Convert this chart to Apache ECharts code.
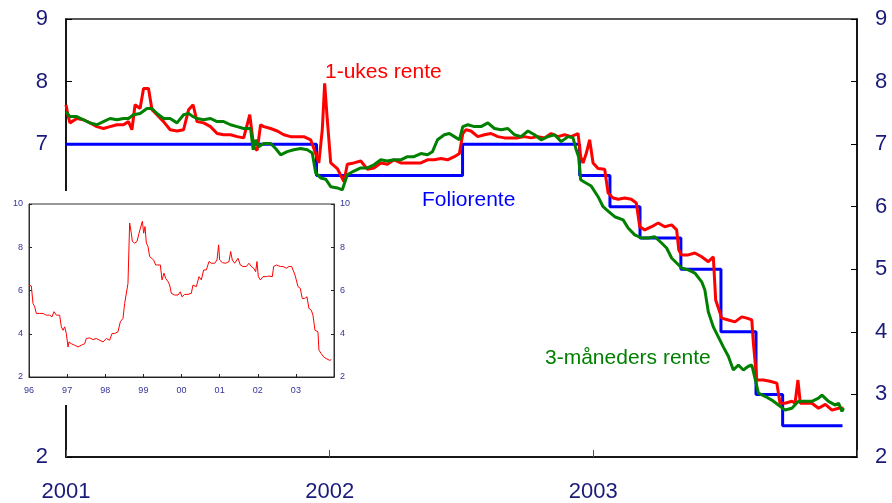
<!DOCTYPE html>
<html>
<head>
<meta charset="utf-8">
<script src="https://cdn.jsdelivr.net/npm/echarts@6/dist/echarts.min.js"></script>
<style>
  html, body { margin: 0; padding: 0; background: #fff; }
  #chart { width: 892px; height: 503px; }
</style>
</head>
<body>
<div id="chart"></div>
<script>
// 1-ukes rente, [år, prosent]
var ukesRente = [
  [2001.000,7.63],[2001.008,7.45],[2001.015,7.34],[2001.041,7.41],[2001.066,7.39],[2001.091,7.34],[2001.117,7.28],
  [2001.142,7.25],[2001.167,7.28],[2001.193,7.31],[2001.218,7.31],[2001.237,7.36],[2001.250,7.23],[2001.262,7.63],
  [2001.281,7.57],[2001.294,7.89],[2001.313,7.89],[2001.326,7.55],[2001.345,7.47],[2001.370,7.36],[2001.395,7.23],
  [2001.421,7.21],[2001.446,7.23],[2001.465,7.55],[2001.482,7.63],[2001.497,7.36],[2001.522,7.34],[2001.548,7.28],
  [2001.573,7.17],[2001.598,7.15],[2001.624,7.15],[2001.649,7.12],[2001.674,7.10],[2001.697,7.47],[2001.712,6.96],
  [2001.725,6.90],[2001.738,7.31],[2001.750,7.28],[2001.776,7.25],[2001.801,7.21],[2001.826,7.15],[2001.852,7.12],
  [2001.877,7.12],[2001.902,7.12],[2001.928,7.07],[2001.940,6.93],[2001.959,6.70],[2001.972,7.23],[2001.981,7.97],
  [2001.991,7.39],[2002.004,6.70],[2002.029,6.61],[2002.054,6.40],[2002.067,6.68],[2002.092,6.70],[2002.118,6.73],
  [2002.143,6.60],[2002.168,6.62],[2002.194,6.70],[2002.219,6.68],[2002.244,6.75],[2002.270,6.70],[2002.295,6.70],
  [2002.320,6.70],[2002.346,6.70],[2002.371,6.75],[2002.397,6.75],[2002.422,6.77],[2002.447,6.75],[2002.473,6.80],
  [2002.492,6.85],[2002.505,7.17],[2002.517,7.23],[2002.536,7.21],[2002.562,7.12],[2002.587,7.15],[2002.612,7.17],
  [2002.638,7.12],[2002.663,7.10],[2002.688,7.10],[2002.714,7.10],[2002.739,7.12],[2002.764,7.10],[2002.790,7.12],
  [2002.815,7.10],[2002.840,7.17],[2002.866,7.12],[2002.891,7.15],[2002.916,7.12],[2002.942,7.17],[2002.952,6.80],
  [2002.961,6.70],[2002.973,6.85],[2002.986,7.07],[2002.999,6.70],[2003.018,6.61],[2003.043,6.60],[2003.056,6.22],
  [2003.075,6.14],[2003.094,6.12],[2003.119,6.14],[2003.144,6.12],[2003.163,6.06],[2003.176,5.68],[2003.195,5.63],
  [2003.221,5.68],[2003.246,5.74],[2003.271,5.68],[2003.297,5.71],[2003.316,5.63],[2003.324,5.31],[2003.335,5.23],
  [2003.360,5.23],[2003.385,5.26],[2003.411,5.20],[2003.436,5.12],[2003.455,5.20],[2003.464,4.51],[2003.487,4.22],
  [2003.512,4.19],[2003.537,4.16],[2003.563,4.24],[2003.582,4.22],[2003.601,4.19],[2003.607,3.82],[2003.620,3.23],
  [2003.645,3.23],[2003.670,3.21],[2003.696,3.18],[2003.708,2.86],[2003.727,2.86],[2003.753,2.89],[2003.765,2.86],
  [2003.776,3.23],[2003.785,2.86],[2003.803,2.86],[2003.829,2.86],[2003.854,2.78],[2003.880,2.84],[2003.905,2.75],
  [2003.930,2.78],[2003.949,2.78]
];

// 3-måneders rente
var mndRente = [
  [2001.000,7.52],[2001.015,7.44],[2001.041,7.44],[2001.066,7.39],[2001.091,7.34],[2001.117,7.31],[2001.142,7.36],
  [2001.167,7.41],[2001.193,7.39],[2001.218,7.41],[2001.237,7.41],[2001.256,7.47],[2001.281,7.49],[2001.307,7.57],
  [2001.326,7.57],[2001.345,7.49],[2001.370,7.41],[2001.395,7.41],[2001.421,7.34],[2001.446,7.47],[2001.465,7.49],
  [2001.482,7.44],[2001.497,7.41],[2001.522,7.39],[2001.548,7.41],[2001.573,7.36],[2001.598,7.36],[2001.624,7.31],
  [2001.649,7.28],[2001.674,7.25],[2001.700,7.25],[2001.710,6.91],[2001.719,7.07],[2001.731,6.96],[2001.750,7.01],
  [2001.776,7.01],[2001.795,6.93],[2001.814,6.83],[2001.839,6.88],[2001.864,6.91],[2001.890,6.93],[2001.915,6.91],
  [2001.934,6.86],[2001.947,6.54],[2001.966,6.46],[2001.985,6.44],[2002.004,6.32],[2002.029,6.30],[2002.048,6.27],
  [2002.067,6.51],[2002.092,6.57],[2002.118,6.62],[2002.143,6.62],[2002.168,6.67],[2002.194,6.75],[2002.219,6.73],
  [2002.244,6.75],[2002.270,6.75],[2002.295,6.80],[2002.320,6.80],[2002.346,6.85],[2002.371,6.83],[2002.390,6.88],
  [2002.409,7.07],[2002.435,7.15],[2002.454,7.17],[2002.473,7.12],[2002.492,7.07],[2002.505,7.28],[2002.524,7.31],
  [2002.549,7.28],[2002.574,7.28],[2002.600,7.34],[2002.625,7.25],[2002.650,7.23],[2002.676,7.25],[2002.701,7.15],
  [2002.726,7.12],[2002.752,7.21],[2002.777,7.15],[2002.802,7.07],[2002.828,7.12],[2002.853,7.15],[2002.878,7.04],
  [2002.904,7.12],[2002.923,7.10],[2002.935,6.91],[2002.944,6.80],[2002.952,6.43],[2002.967,6.39],[2002.992,6.33],
  [2003.018,6.16],[2003.037,6.00],[2003.056,5.93],[2003.081,5.84],[2003.113,5.79],[2003.132,5.66],[2003.157,5.55],
  [2003.183,5.50],[2003.208,5.50],[2003.233,5.52],[2003.259,5.42],[2003.278,5.34],[2003.297,5.18],[2003.335,5.02],
  [2003.360,4.99],[2003.385,4.94],[2003.411,4.80],[2003.423,4.67],[2003.436,4.32],[2003.455,4.08],[2003.474,3.92],
  [2003.493,3.76],[2003.512,3.61],[2003.531,3.39],[2003.550,3.47],[2003.569,3.39],[2003.588,3.45],[2003.601,3.47],
  [2003.613,3.26],[2003.626,3.02],[2003.651,2.97],[2003.677,2.91],[2003.702,2.83],[2003.727,2.75],[2003.753,2.78],
  [2003.778,2.89],[2003.803,2.89],[2003.829,2.89],[2003.854,2.94],[2003.867,2.99],[2003.892,2.89],[2003.918,2.83],
  [2003.930,2.86],[2003.943,2.73],[2003.949,2.78]
];

// Foliorente, endringsdatoer
var folioRente = [
  [2001.000,7.0],[2001.950,6.5],[2002.504,7.0],[2002.948,6.5],[2003.063,6.0],[2003.177,5.5],
  [2003.332,5.0],[2003.484,4.0],[2003.617,3.0],[2003.718,2.5],[2003.945,2.5]
];

// innfelt: 1-ukes rente 1996-2003
var ukesRenteLang = [
  [1996.000,6.25],[1996.061,6.21],[1996.105,5.40],[1996.149,5.25],[1996.192,4.94],[1996.236,5.02],[1996.280,4.94],
  [1996.367,4.94],[1996.455,4.86],[1996.542,4.86],[1996.603,4.78],[1996.656,5.02],[1996.717,4.86],[1996.760,4.94],
  [1996.804,4.86],[1996.848,4.32],[1996.892,4.16],[1996.935,4.32],[1996.979,4.01],[1997.023,3.39],[1997.049,3.62],
  [1997.110,3.54],[1997.198,3.47],[1997.285,3.39],[1997.372,3.47],[1997.460,3.54],[1997.503,3.78],[1997.591,3.81],
  [1997.678,3.73],[1997.766,3.78],[1997.853,3.70],[1997.941,3.62],[1998.028,3.78],[1998.115,3.70],[1998.177,4.01],
  [1998.247,4.01],[1998.334,4.09],[1998.395,4.55],[1998.465,4.71],[1998.509,5.40],[1998.552,5.48],[1998.596,6.33],
  [1998.640,9.12],[1998.684,8.65],[1998.711,8.27],[1998.772,8.19],[1998.833,8.27],[1998.886,8.65],[1998.930,8.65],
  [1998.973,9.20],[1999.008,8.65],[1999.043,8.96],[1999.078,8.19],[1999.122,8.03],[1999.165,7.57],[1999.209,7.49],
  [1999.270,7.41],[1999.323,7.18],[1999.384,7.18],[1999.445,7.18],[1999.489,6.49],[1999.541,6.80],[1999.585,6.56],
  [1999.646,6.41],[1999.690,6.25],[1999.733,5.87],[1999.821,5.79],[1999.908,5.79],[1999.969,5.94],[2000.013,5.71],
  [2000.083,5.82],[2000.170,5.82],[2000.258,5.87],[2000.301,6.25],[2000.389,6.18],[2000.459,6.64],[2000.520,6.49],
  [2000.581,6.95],[2000.651,6.95],[2000.721,7.34],[2000.782,7.26],[2000.869,7.26],[2000.931,7.41],[2000.974,8.11],
  [2001.001,7.41],[2001.071,7.29],[2001.158,7.26],[2001.246,7.34],[2001.289,7.80],[2001.333,7.41],[2001.394,7.26],
  [2001.421,7.18],[2001.482,7.49],[2001.543,7.18],[2001.613,7.11],[2001.700,7.11],[2001.770,7.26],[2001.831,7.11],
  [2001.892,7.03],[2001.945,6.87],[2001.980,7.34],[2002.015,6.64],[2002.067,6.49],[2002.137,6.64],[2002.225,6.64],
  [2002.294,6.67],[2002.382,6.64],[2002.417,7.11],[2002.487,7.18],[2002.531,7.26],[2002.592,7.11],[2002.662,7.11],
  [2002.750,7.03],[2002.819,7.11],[2002.889,7.11],[2002.941,7.03],[2002.976,6.72],[2003.011,6.49],[2003.055,6.18],
  [2003.115,6.10],[2003.168,5.63],[2003.229,5.63],[2003.291,5.71],[2003.343,5.17],[2003.404,5.09],[2003.448,4.86],
  [2003.501,4.16],[2003.553,4.16],[2003.579,4.09],[2003.605,3.24],[2003.666,3.08],[2003.728,2.93],[2003.798,2.85],
  [2003.885,2.77],[2003.929,2.80]
];

var FONT = '"Liberation Sans", Arial, sans-serif';
var NAVY = '#1a1a7a';
var INSET_BLUE = '#33339a';

var chart = echarts.init(document.getElementById('chart'));

function mainY(pos) {
  return {
    type: 'value', gridIndex: 0, position: pos, min: 2, max: 9, interval: 1,
    axisLine: { show: true, lineStyle: { color: '#000', width: 1.5 } },
    axisTick: { show: true, inside: true, length: 6, lineStyle: { color: '#000', width: 1 } },
    axisLabel: { color: NAVY, fontSize: 22, fontFamily: FONT, margin: 18 },
    splitLine: { show: false }
  };
}

function insetY(pos) {
  return {
    type: 'value', gridIndex: 1, position: pos, min: 2, max: 10, interval: 2, z: 20,
    axisLine: { show: true, lineStyle: { color: '#333', width: 1 } },
    axisTick: { show: true, inside: true, length: 3, lineStyle: { color: '#222' } },
    axisLabel: { color: INSET_BLUE, fontSize: 9, fontFamily: FONT, margin: 6 },
    splitLine: { show: false }
  };
}

var option = {
  animation: false,
  backgroundColor: '#fff',
  grid: [
    { left: 66, right: 35, top: 19, bottom: 46, show: true, borderColor: '#222', borderWidth: 1.5 },
    { left: 29, right: 558, top: 204, bottom: 126, show: true, borderColor: '#333', borderWidth: 1, z: 20 }
  ],
  xAxis: [
    {
      type: 'value', gridIndex: 0, min: 2001, max: 2004, interval: 1,
      axisLine: { show: true, lineStyle: { color: '#000', width: 1.5 } },
      axisTick: { show: true, inside: true, length: 7, lineStyle: { color: '#555', width: 1 } },
      axisLabel: {
        color: NAVY, fontSize: 22, fontFamily: FONT, margin: 24,
        formatter: function (v) { return v === 2004 ? '' : String(v); }
      },
      splitLine: { show: false }
    },
    {
      type: 'value', gridIndex: 1, min: 1996, max: 2004, interval: 1, z: 20,
      axisLine: { show: true, lineStyle: { color: '#222', width: 1 } },
      axisTick: { show: true, inside: true, length: 3, lineStyle: { color: '#222' } },
      axisLabel: {
        color: INSET_BLUE, fontSize: 9, fontFamily: FONT, margin: 9,
        formatter: function (v) { return v === 2004 ? '' : String(v).slice(2); }
      },
      splitLine: { show: false }
    }
  ],
  yAxis: [mainY('left'), mainY('right'), insetY('left'), insetY('right')],
  graphic: [
    { type: 'rect', left: 0, top: 191, z: 10, shape: { width: 358, height: 214 }, style: { fill: '#fff' } },
    { type: 'text', left: 325, top: 62, z: 30, style: { text: '1-ukes rente', fill: '#ff0000', font: '21px ' + FONT } },
    { type: 'text', left: 422, top: 190, z: 30, style: { text: 'Foliorente', fill: '#0000ff', font: '21px ' + FONT } },
    { type: 'text', left: 545, top: 348, z: 30, style: { text: '3-måneders rente', fill: '#008000', font: '21px ' + FONT } }
  ],
  series: [
    {
      name: 'Foliorente', type: 'line', xAxisIndex: 0, yAxisIndex: 0, step: 'end',
      data: folioRente, showSymbol: false, lineStyle: { color: '#0000ff', width: 3 }, z: 3
    },
    {
      name: '1-ukes rente', type: 'line', xAxisIndex: 0, yAxisIndex: 0,
      data: ukesRente, showSymbol: false, lineStyle: { color: '#ff0000', width: 3 }, z: 4
    },
    {
      name: '3-måneders rente', type: 'line', xAxisIndex: 0, yAxisIndex: 0,
      data: mndRente, showSymbol: false, lineStyle: { color: '#008000', width: 3 }, z: 5
    },
    {
      name: '1-ukes rente 96-03', type: 'line', xAxisIndex: 1, yAxisIndex: 2,
      data: ukesRenteLang, showSymbol: false, lineStyle: { color: '#ff0000', width: 1 }, z: 25
    }
  ]
};

chart.setOption(option);
</script>
</body>
</html>
